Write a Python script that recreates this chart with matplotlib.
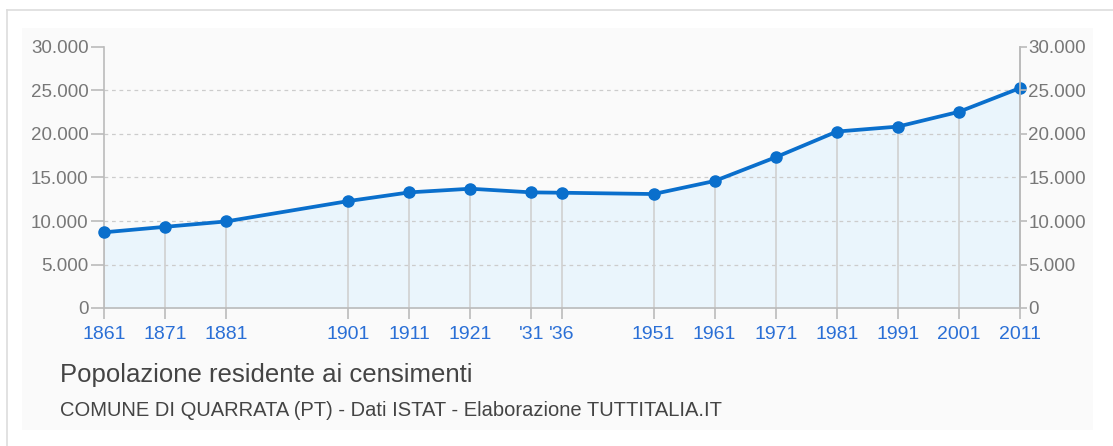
import numpy as np
import matplotlib.pyplot as plt
from matplotlib.patches import Rectangle
from matplotlib.lines import Line2D

# Data
years = [1861, 1871, 1881, 1901, 1911, 1921, 1931, 1936, 1951, 1961, 1971, 1981, 1991, 2001, 2011]
year_labels = ["1861", "1871", "1881", "1901", "1911", "1921", "'31", "'36", "1951", "1961",
               "1971", "1981", "1991", "2001", "2011"]
population = [8700, 9330, 9950, 12290, 13290, 13710, 13290, 13250, 13100, 14600,
              17330, 20280, 20850, 22550, 25280]
y_ticks = [0, 5000, 10000, 15000, 20000, 25000, 30000]
y_labels = ["0", "5.000", "10.000", "15.000", "20.000", "25.000", "30.000"]

plt.rcParams['font.family'] = ['Liberation Sans', 'DejaVu Sans']

W, H = 1113, 446
fig = plt.figure(figsize=(W / 100, H / 100), dpi=100)
fig.patch.set_facecolor('white')

# Card background and border
fig.patches.append(Rectangle((22 / W, 1 - 430 / H), (1093 - 22) / W, (430 - 28) / H,
                             transform=fig.transFigure, facecolor='#fafafa', edgecolor='none', zorder=-5))
fig.lines.append(Line2D([7 / W, 7 / W], [0, 1 - 10 / H], transform=fig.transFigure, color='#dddddd', lw=1.2))
fig.lines.append(Line2D([7 / W, 1], [1 - 10 / H, 1 - 10 / H], transform=fig.transFigure, color='#dddddd', lw=1.2))

ax = fig.add_axes([104 / W, 1 - 308 / H, (1020 - 104) / W, (308 - 47) / H])
ax.set_facecolor('none')
ax.set_xlim(1861, 2011)
ax.set_ylim(0, 30000)

grey = '#bbbbbb'
# grid
for t in y_ticks[1:-1]:
    ax.axhline(t, color='#cccccc', lw=0.9, ls=(0, (3, 3)), zorder=1)

ax.fill_between(years, population, 0, color='#eaf5fc', zorder=0.5)
ax.vlines(years, 0, population, color='#d0d0d0', lw=1.2, zorder=1.5)
ax.plot(years, population, color='#0a6fcc', lw=2.7, marker='o', ms=8, zorder=3, clip_on=False)

ax.spines['top'].set_visible(False)
for s in ['left', 'right', 'bottom']:
    ax.spines[s].set_color(grey)
    ax.spines[s].set_linewidth(1.2)

ax.set_xticks(years)
ax.set_xticklabels(year_labels)
ax.tick_params(axis='x', colors=grey, labelcolor='#2a6fd6', labelsize=14, length=8, width=1.2, pad=5)

ax.set_yticks(y_ticks)
ax.set_yticklabels(y_labels)
ax.tick_params(axis='y', colors=grey, labelcolor='#777777', labelsize=13.5, length=9.5, width=1.2, pad=1.5)

ax2 = ax.twinx()
ax2.set_ylim(0, 30000)
ax2.set_yticks(y_ticks)
ax2.set_yticklabels(y_labels)
ax2.tick_params(axis='y', colors=grey, labelcolor='#777777', labelsize=13.5, length=5, width=1.2, pad=1)
for s in ['top', 'left', 'bottom']:
    ax2.spines[s].set_visible(False)
ax2.spines['right'].set_color(grey)
ax2.spines['right'].set_linewidth(1.2)

fig.text(60 / W, 1 - 375 / H, "Popolazione residente ai censimenti", fontsize=18.5,
         color='#444444', va='center', ha='left')
fig.text(60 / W, 1 - 411 / H, "COMUNE DI QUARRATA (PT) - Dati ISTAT - Elaborazione TUTTITALIA.IT",
         fontsize=14.5, color='#444444', va='center', ha='left')

fig.savefig('out.png', dpi=100, facecolor=fig.get_facecolor())
